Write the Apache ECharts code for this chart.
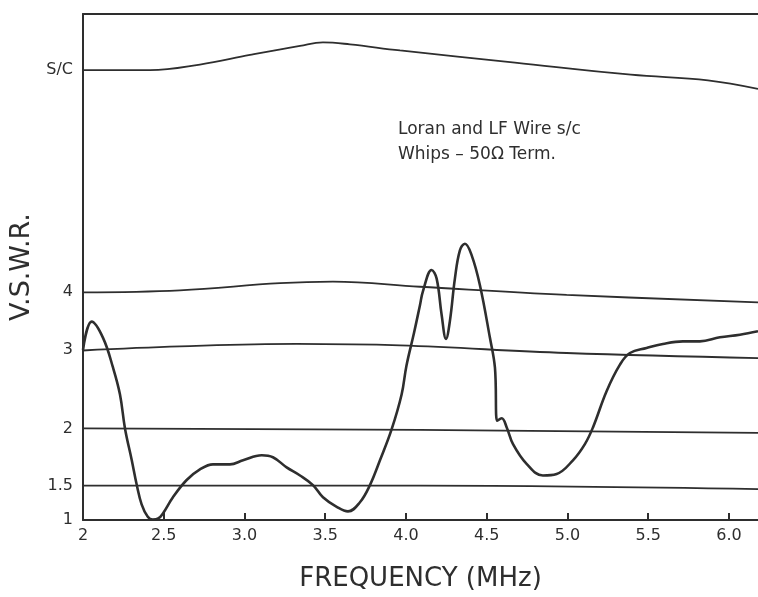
<!DOCTYPE html>
<html>
<head>
<meta charset="utf-8">
<title>V.S.W.R. vs frequency</title>
<script src="https://cdn.jsdelivr.net/npm/echarts@6/dist/echarts.min.js"></script>
<style>
  html, body { margin: 0; padding: 0; background: #fff; }
  #chart { width: 758px; height: 597px; }
</style>
</head>
<body>
<div id="chart"></div>
<script>
// frequency ticks (MHz)
const freqTicks = [2, 2.5, 3.0, 3.5, 4.0, 4.5, 5.0, 5.5, 6.0];

// V.S.W.R. scale is not linear: position on the chart (0..100) for each label
const vswrTickPos = [0, 6.8, 18.1, 33.6, 45.0, 88.9];
const vswrTickLabels = ['1', '1.5', '2', '3', '4', 'S/C'];

// measured whip curve (Loran and LF wire s/c whips, 50 ohm term.)
const freqMain = [2.0, 2.054, 2.124, 2.186, 2.229, 2.260, 2.302, 2.333, 2.363, 2.400,
  2.432, 2.466, 2.495, 2.557, 2.642, 2.724, 2.805, 2.910, 2.991, 3.107, 3.176,
  3.261, 3.344, 3.424, 3.486, 3.571, 3.641, 3.715, 3.777, 3.839, 3.911,
  3.973, 4.003, 4.050, 4.087, 4.105, 4.159, 4.190, 4.221, 4.248,
  4.272, 4.303, 4.334, 4.365, 4.407, 4.458, 4.520, 4.551, 4.565, 4.593,
  4.624, 4.663, 4.747, 4.848, 4.933, 5.034, 5.108, 5.158, 5.243, 5.325,
  5.387, 5.490, 5.591, 5.715, 5.820, 5.944, 6.068, 6.180];
const posMain = [33.6, 39.2, 36.0, 30.1, 24.8, 18.1, 11.8, 6.9, 3.1, 0.7,
  0.1, 0.3, 1.3, 4.5, 7.9, 10.0, 11.0, 11.0, 11.8, 12.8, 12.4,
  10.4, 8.8, 6.9, 4.5, 2.6, 1.7, 3.5, 6.9, 11.8, 17.9,
  24.8, 30.5, 37.0, 42.5, 45.2, 49.4, 47.7, 40.5, 35.8,
  39.3, 47.7, 53.3, 54.6, 52.3, 46.4, 36.0, 30.1, 19.6, 20.1,
  18.3, 15.0, 11.1, 8.8, 9.1, 11.8, 15.0, 18.3, 25.5, 30.7,
  33.0, 34.0, 34.8, 35.3, 35.3, 36.1, 36.6, 37.3];

// calibration traces
const freqSC = [2.0, 2.415, 2.724, 3.034, 3.344, 3.486, 3.653, 3.963, 4.675, 5.393, 5.870, 6.18];
const posSC = [88.9, 88.9, 90.0, 91.9, 93.7, 94.4, 94.0, 92.8, 90.4, 88.0, 86.9, 85.2];
const freq4 = [2.0, 2.60, 3.22, 3.548, 4.087, 4.995, 6.18];
const pos4 = [45.0, 45.4, 46.8, 47.1, 46.1, 44.5, 43.0];
const freq3 = [2.0, 2.60, 3.323, 3.963, 4.995, 6.18];
const pos3 = [33.5, 34.3, 34.8, 34.5, 33.0, 32.0];
const freq2 = [2.0, 4.087, 6.18];
const pos2 = [18.1, 17.8, 17.2];
const freq15 = [2.0, 4.09, 6.18];
const pos15 = [6.8, 6.8, 6.1];

const ink = '#2e2e2e';
const font = 'DejaVu Sans';

function pairs(xs, ys) {
  return xs.map((x, i) => [x, ys[i]]);
}

function refLine(name, xs, ys) {
  return {
    name: name,
    type: 'line',
    data: pairs(xs, ys),
    smooth: 0.4,
    showSymbol: false,
    lineStyle: { color: ink, width: 1.8 }
  };
}

const chart = echarts.init(document.getElementById('chart'));
chart.setOption({
  animation: false,
  backgroundColor: '#fff',
  title: {
    text: 'Loran and LF Wire s/c\nWhips – 50Ω Term.',
    left: 398,
    top: 117,
    padding: 0,
    textStyle: {
      color: ink,
      fontFamily: font,
      fontSize: 17,
      fontWeight: 'normal',
      lineHeight: 25
    }
  },
  grid: { left: 83, right: 0, top: 14, bottom: 74 },
  xAxis: [{
    type: 'value',
    min: 2,
    max: 6.18,
    interval: 0.5,
    name: 'FREQUENCY (MHz)',
    nameLocation: 'middle',
    nameGap: 46,
    nameTextStyle: { color: ink, fontFamily: font, fontSize: 26 },
    axisLine: { show: true, lineStyle: { color: ink, width: 2 } },
    axisTick: {
      show: true,
      inside: true,
      length: 7,
      customValues: freqTicks.slice(1),
      lineStyle: { color: ink, width: 2 }
    },
    axisLabel: {
      customValues: freqTicks,
      margin: 8,
      color: ink,
      fontFamily: font,
      fontSize: 16,
      formatter: v => (v === 2 ? '2' : v.toFixed(1))
    },
    splitLine: { show: false }
  }, {
    type: 'value',
    position: 'top',
    min: 2,
    max: 6.18,
    axisLine: { show: true, lineStyle: { color: ink, width: 2 } },
    axisTick: { show: false },
    axisLabel: { show: false },
    splitLine: { show: false }
  }],
  yAxis: {
    type: 'value',
    min: 0,
    max: 100,
    name: 'V.S.W.R.',
    nameLocation: 'middle',
    nameGap: 47,
    nameRotate: 90,
    nameTextStyle: { color: ink, fontFamily: font, fontSize: 27 },
    axisLine: { show: true, lineStyle: { color: ink, width: 2 } },
    axisTick: { show: false },
    axisLabel: {
      customValues: vswrTickPos,
      margin: 10,
      color: ink,
      fontFamily: font,
      fontSize: 16,
      formatter: v => vswrTickLabels[vswrTickPos.indexOf(v)]
    },
    splitLine: { show: false }
  },
  series: [
    refLine('S/C', freqSC, posSC),
    refLine('4', freq4, pos4),
    refLine('3', freq3, pos3),
    refLine('2', freq2, pos2),
    refLine('1.5', freq15, pos15),
    {
      name: 'Whips',
      type: 'line',
      data: pairs(freqMain, posMain),
      smooth: 0.4,
      showSymbol: false,
      lineStyle: { color: ink, width: 2.6 }
    }
  ]
});
</script>
</body>
</html>
